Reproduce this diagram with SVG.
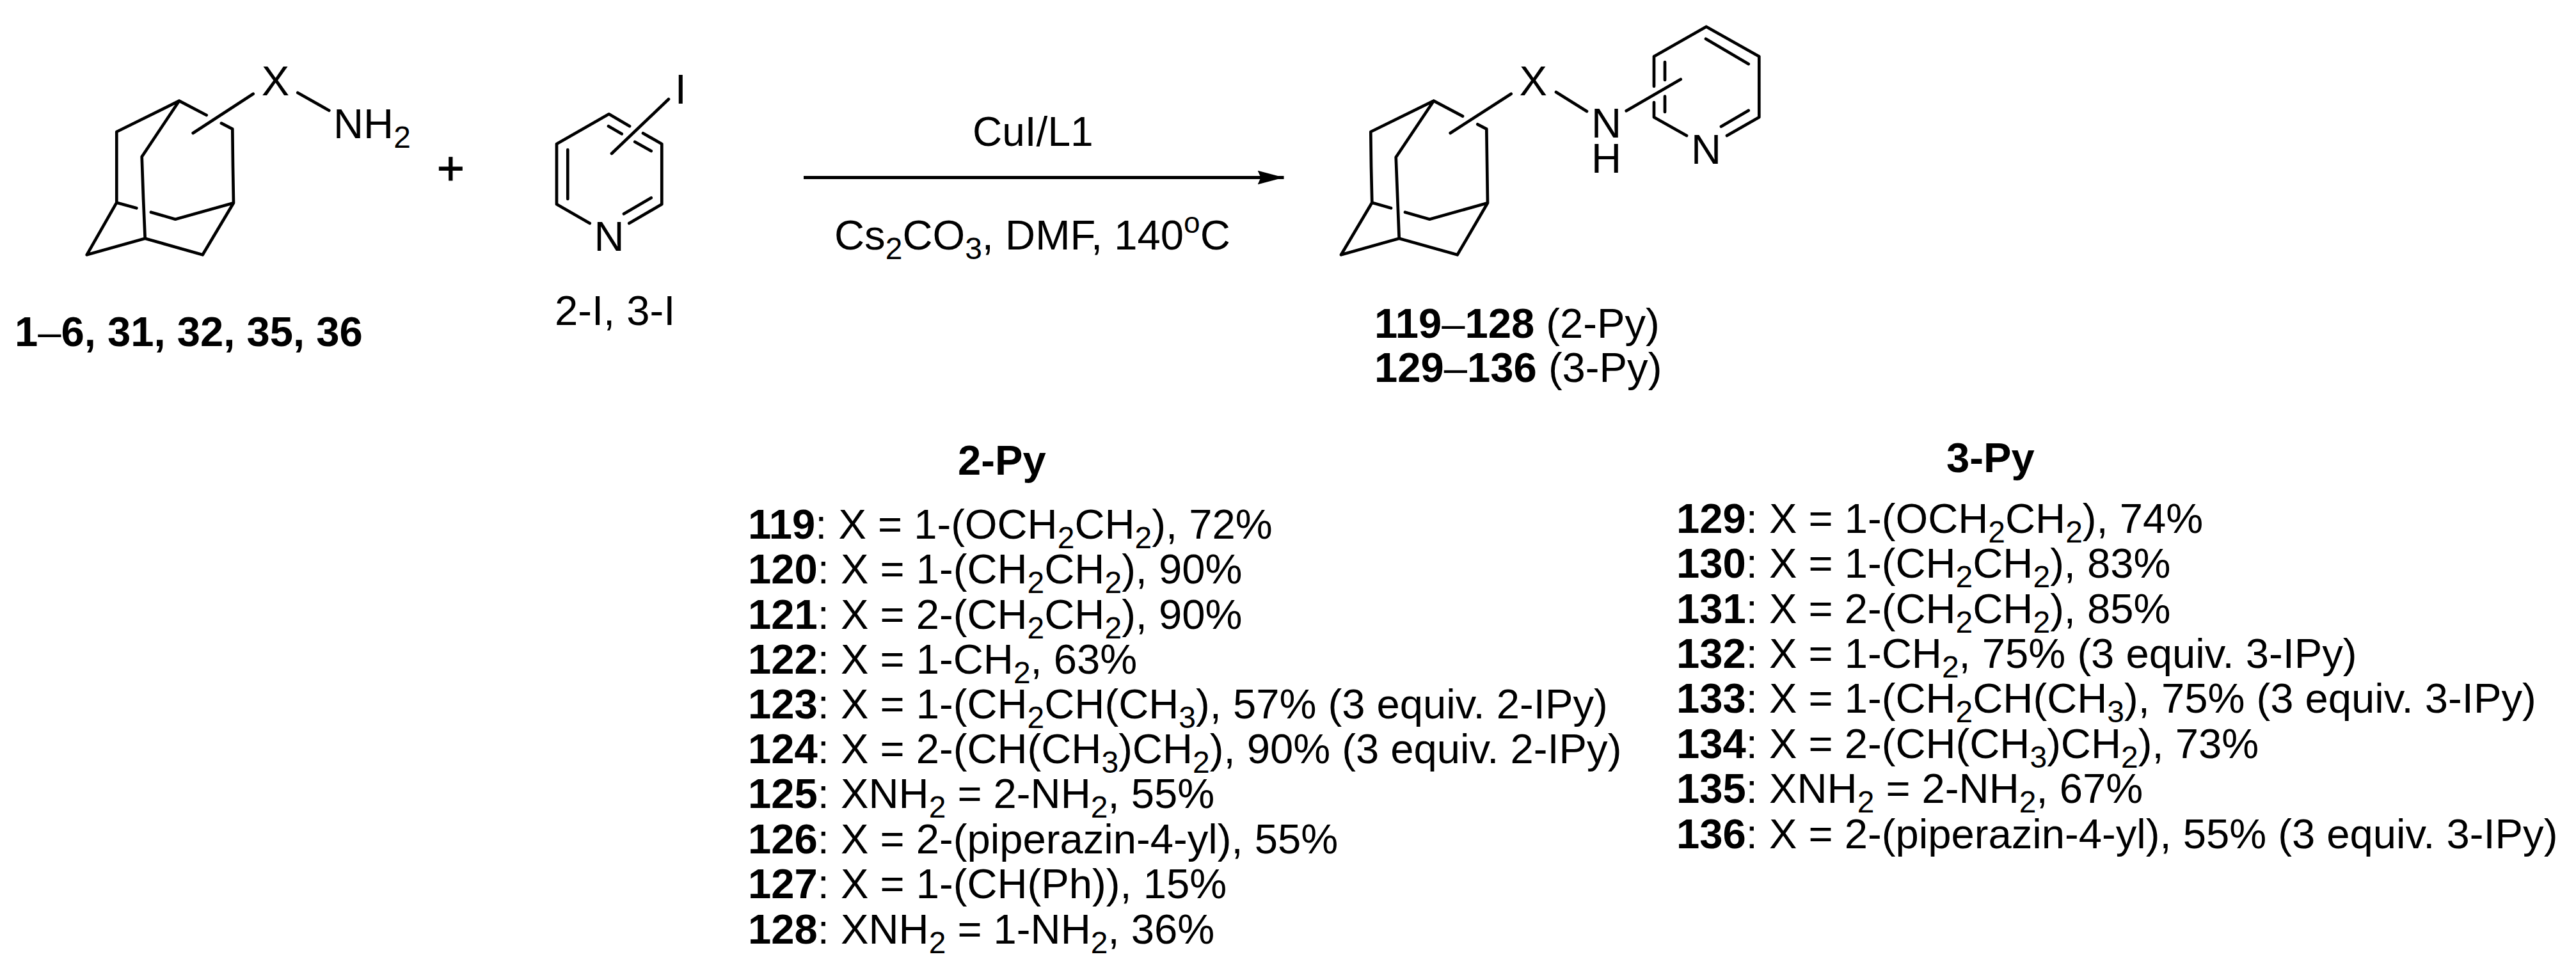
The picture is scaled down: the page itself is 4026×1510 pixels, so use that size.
<svg xmlns="http://www.w3.org/2000/svg" width="4026" height="1510" viewBox="0 0 4026 1510">
<style>
text{font-family:"Liberation Sans",Arial,sans-serif;font-size:65.200px;fill:#000}
.b{font-weight:bold}
.d{font-weight:normal}
.s{font-size:48px;baseline-shift:-15px}
.u{font-size:46px;baseline-shift:26px}
.m{text-anchor:middle}
.bond{fill:none;stroke:#000;stroke-width:4.7;stroke-linecap:round;stroke-linejoin:round}
</style>
<defs>
<marker id="head" markerUnits="userSpaceOnUse" markerWidth="44" markerHeight="26" refX="41" refY="12" orient="auto"><path d="M0 1L41 12L0 23L5 12Z" fill="#000"/></marker>
</defs>
<rect width="4026" height="1510" fill="#fff"/>
<g id="connectors">
<line x1="1256" y1="277.500" x2="2006.500" y2="277.500" stroke="#000" stroke-width="4.800" marker-end="url(#head)"/>
</g>
<g id="reactant-amine">
<path class="bond" d="M322.700 180L280 157.700L182.300 206V316.700L135.700 398.300L226.700 372.700L316.700 398.300L365 317.300L364 260L363.300 201.700L346 192.700M280 157.700L221.700 245L224 310L226.700 372.700M182.300 316.700L213.300 325.300M236 331.700L274 342.700L365 317.300M301.700 208L395.700 146.700M465.300 145L514.300 172.700"/>
<text x="430.500" y="148.700" class="m">X</text>
<text x="521" y="216">NH<tspan class="s">2</tspan></text>
</g>
<g id="plus"><text x="704.300" y="289" class="m" style="font-size:74px;stroke:#000;stroke-width:1">+</text></g>
<g id="reactant-iodopyridine">
<path class="bond" d="M984 197.300L951.700 178.300L870 225V319.300L921.700 349M983.300 349L1034.300 319.300V225L1005 208.300M887.300 234V311M975 334.300L1017.700 309.300M992.300 221.700L1017.700 236M951 197.300L971.700 209.300M956 240L1045 155"/>
<text x="952" y="391.700" class="m">N</text>
<text x="1063.700" y="161.700" class="m">I</text>
</g>
<g id="label-reactants">
<text x="23" y="541" class="b">1<tspan class="d">–</tspan>6, 31, 32, 35, 36</text>
<text x="867" y="508">2-I, 3-I</text>
</g>
<g id="conditions">
<text x="1520" y="228.300" style="font-size:64px">CuI/L1</text>
<text x="1304" y="390">Cs<tspan class="s">2</tspan>CO<tspan class="s">3</tspan>, DMF, 140<tspan class="u">o</tspan>C</text>
</g>
<g id="product">
<path class="bond" d="M2286 181.700L2240.700 157.700L2142.300 206L2143 260L2144.300 316.700L2096 398.300L2186.700 372.700L2277.700 398.300L2325 317.300L2323.300 201.700L2309.300 194.300M2240.700 157.700L2181.700 245.700L2186.700 372.700M2144.300 316.700L2174 325.300M2196 331.700L2234.300 342.700L2325 317.300M2266.700 208L2361.700 146.700M2432 144L2480 174M2541.700 173.300L2626.700 124M2585 135V88.300L2666.700 41.700L2749.300 88.300V183.300L2699 212M2585 160V183.300L2636 212M2666 60.700L2732.700 100M2602 97V125M2602 150.700V175M2690 197.700L2732.700 172.700"/>
<text x="2396.200" y="148.700" class="m">X</text>
<text x="2510.500" y="215" class="m">N</text>
<text x="2510.500" y="270" class="m">H</text>
<text x="2666.500" y="255.700" class="m">N</text>
</g>
<g id="label-product">
<text x="2148" y="528"><tspan class="b">119<tspan class="d">–</tspan>128</tspan> (2-Py)</text>
<text x="2148" y="597"><tspan class="b">129<tspan class="d">–</tspan>136</tspan> (3-Py)</text>
</g>
<g id="table-2py">
<text x="1497" y="742" class="b">2-Py</text>
<text x="1169" y="842"><tspan class="b">119</tspan>: X = 1-(OCH<tspan class="s">2</tspan>CH<tspan class="s">2</tspan>), 72%</text>
<text x="1169" y="912"><tspan class="b">120</tspan>: X = 1-(CH<tspan class="s">2</tspan>CH<tspan class="s">2</tspan>), 90%</text>
<text x="1169" y="982.500"><tspan class="b">121</tspan>: X = 2-(CH<tspan class="s">2</tspan>CH<tspan class="s">2</tspan>), 90%</text>
<text x="1169" y="1053"><tspan class="b">122</tspan>: X = 1-CH<tspan class="s">2</tspan>, 63%</text>
<text x="1169" y="1122.500"><tspan class="b">123</tspan>: X = 1-(CH<tspan class="s">2</tspan>CH(CH<tspan class="s">3</tspan>), 57% (3 equiv. 2-IPy)</text>
<text x="1169" y="1193"><tspan class="b">124</tspan>: X = 2-(CH(CH<tspan class="s">3</tspan>)CH<tspan class="s">2</tspan>), 90% (3 equiv. 2-IPy)</text>
<text x="1169" y="1263"><tspan class="b">125</tspan>: XNH<tspan class="s">2</tspan> = 2-NH<tspan class="s">2</tspan>, 55%</text>
<text x="1169" y="1334"><tspan class="b">126</tspan>: X = 2-(piperazin-4-yl), 55%</text>
<text x="1169" y="1404"><tspan class="b">127</tspan>: X = 1-(CH(Ph)), 15%</text>
<text x="1169" y="1475"><tspan class="b">128</tspan>: XNH<tspan class="s">2</tspan> = 1-NH<tspan class="s">2</tspan>, 36%</text>
</g>
<g id="table-3py">
<text x="3042" y="738" class="b">3-Py</text>
<text x="2620" y="832.500"><tspan class="b">129</tspan>: X = 1-(OCH<tspan class="s">2</tspan>CH<tspan class="s">2</tspan>), 74%</text>
<text x="2620" y="902.500"><tspan class="b">130</tspan>: X = 1-(CH<tspan class="s">2</tspan>CH<tspan class="s">2</tspan>), 83%</text>
<text x="2620" y="973.500"><tspan class="b">131</tspan>: X = 2-(CH<tspan class="s">2</tspan>CH<tspan class="s">2</tspan>), 85%</text>
<text x="2620" y="1044"><tspan class="b">132</tspan>: X = 1-CH<tspan class="s">2</tspan>, 75% (3 equiv. 3-IPy)</text>
<text x="2620" y="1114"><tspan class="b">133</tspan>: X = 1-(CH<tspan class="s">2</tspan>CH(CH<tspan class="s">3</tspan>), 75% (3 equiv. 3-IPy)</text>
<text x="2620" y="1184.500"><tspan class="b">134</tspan>: X = 2-(CH(CH<tspan class="s">3</tspan>)CH<tspan class="s">2</tspan>), 73%</text>
<text x="2620" y="1255"><tspan class="b">135</tspan>: XNH<tspan class="s">2</tspan> = 2-NH<tspan class="s">2</tspan>, 67%</text>
<text x="2620" y="1326"><tspan class="b">136</tspan>: X = 2-(piperazin-4-yl), 55% (3 equiv. 3-IPy)</text>
</g>
</svg>
